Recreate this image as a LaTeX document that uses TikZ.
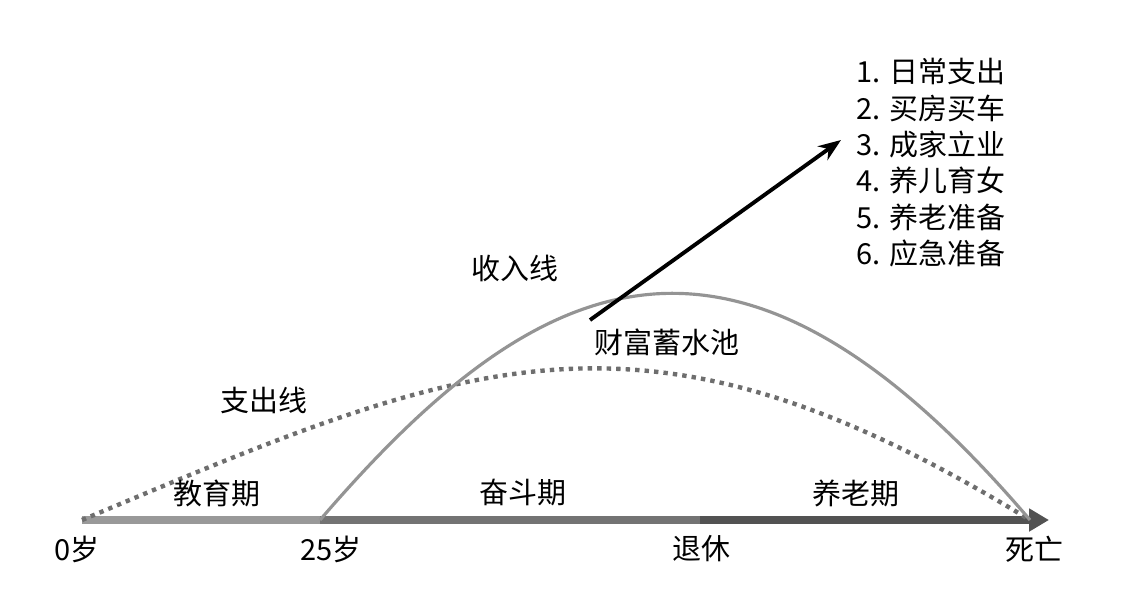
\documentclass[tikz,border=0pt]{standalone}
\usepackage{fontspec}
\setmainfont{Noto Sans CJK SC}
\usetikzlibrary{arrows.meta}

\begin{document}
\begin{tikzpicture}[x=0.02cm,y=-0.02cm,>=Stealth,
		lbl/.style={inner sep=0pt,font=\fontsize{16.5pt}{20.7pt}\selectfont},
		axisbar/.style={line width=4.5pt},
		incomeline/.style={draw=black!42,line width=1.8pt},
		spendline/.style={draw=black!57,line width=2.5pt,dash pattern=on 2.5pt off 2.9pt}
	]
	\useasboundingbox (0,0) rectangle (1142,600);

	% axis points
	\coordinate (birth) at (82,520);
	\coordinate (work) at (320,520);
	\coordinate (retire) at (700,520);
	\coordinate (death) at (1030,520);
	\coordinate (tip) at (1049,520);

	% life stages
	\draw[axisbar,draw=black!40] (birth)--(work);
	\draw[axisbar,draw=black!55] (work)--(retire);
	\draw[axisbar,draw=black!68,-{Triangle[length=20pt*0.02/0.0352,width=22pt*0.02/0.0352]}] (retire)--(tip);

	% curves
	\draw[spendline] (birth) .. controls (470,357) and (642,282) .. (death);
	\draw[incomeline] (work) .. controls (545,258) and (740,180) .. (death);

	% labels
	\node[lbl] (incomelbl) at (515,268) {收入线};
	\node[lbl] (poollbl) at (667,342) {财富蓄水池};
	\node[lbl] (spendlbl) at (264,400) {支出线};
	\node[lbl] (edu) at (217,493) {教育期};
	\node[lbl] (strive) at (523,493) {奋斗期};
	\node[lbl] (old) at (856,493) {养老期};
	\node[lbl] (age0) at (77,549) {0岁};
	\node[lbl] (age25) at (331,549) {25岁};
	\node[lbl] (retirelbl) at (701,549) {退休};
	\node[lbl] (deathlbl) at (1034,549) {死亡};

	\node[lbl,align=left,anchor=north west] (uses) at (856,58) {1. 日常支出\\2. 买房买车\\3. 成家立业\\4. 养儿育女\\5. 养老准备\\6. 应急准备};

	% wealth outflow
	\coordinate (pool) at (590,320);
	\coordinate (outflow) at (841,140);
	\draw[->,line width=2.2pt] (pool)--(outflow);
\end{tikzpicture}
\end{document}
